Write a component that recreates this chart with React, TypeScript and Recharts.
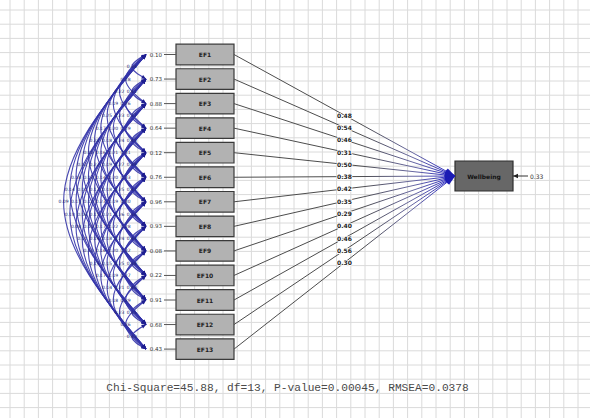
import React from 'react';
import { ComposedChart, XAxis, YAxis, CartesianGrid, Line, Scatter, ReferenceArea } from 'recharts';

// ---------- data ----------
const indicators = ['EF1', 'EF2', 'EF3', 'EF4', 'EF5', 'EF6', 'EF7', 'EF8', 'EF9', 'EF10', 'EF11', 'EF12', 'EF13'];
const loadings = [0.48, 0.54, 0.46, 0.31, 0.5, 0.38, 0.42, 0.35, 0.29, 0.4, 0.46, 0.56, 0.3];
const variances = [0.1, 0.73, 0.88, 0.64, 0.12, 0.76, 0.96, 0.93, 0.08, 0.22, 0.91, 0.68, 0.43];
const covariances = [
  [0.34, 0.28, 0.22, 0.19, 0.25, 0.17, 0.21, 0.15, 0.12, 0.18, 0.14, 0.09],
  [0.41, 0.26, 0.23, 0.2, 0.18, 0.16, 0.22, 0.13, 0.11, 0.15, 0.1],
  [0.37, 0.29, 0.24, 0.21, 0.19, 0.14, 0.17, 0.12, 0.16, 0.08],
  [0.45, 0.31, 0.27, 0.2, 0.18, 0.23, 0.15, 0.13, 0.11],
  [0.39, 0.33, 0.25, 0.19, 0.21, 0.17, 0.14, 0.12],
  [0.42, 0.3, 0.26, 0.22, 0.18, 0.16, 0.13],
  [0.36, 0.28, 0.24, 0.2, 0.15, 0.17],
  [0.44, 0.32, 0.25, 0.19, 0.14],
  [0.38, 0.27, 0.21, 0.18],
  [0.4, 0.29, 0.23],
  [0.35, 0.26],
  [0.43],
];
const targetName = 'Wellbeing';
const targetError = 0.33;
const fitText = 'Chi-Square=45.88, df=13, P-value=0.00045, RMSEA=0.0378';

// ---------- layout (canvas units, mapped by the axes' scales) ----------
const W = 590;
const H = 418;
const ROW_TOP = 54.5;
const ROW_STEP = 24.55;
const BOX_X1 = 176;
const BOX_X2 = 234;
const BOX_HALF = 10.3;
const TGT_X1 = 455;
const TGT_X2 = 513;
const TGT_Y = 176;
const TGT_HALF = 15;
const VAR_LINE_X = 164;
const VAR_LABEL_X = 162;
const ARC_X = 146;
const ARC_BASE = 8;
const ARC_GROW = 6.2;
const ERR_X = 528;
const FIT_X = 287.5;
const FIT_Y = 388;
const GRID_STEP = 14.2;

const rowY = (i: number) => ROW_TOP + i * ROW_STEP;

const gridXs: number[] = [];
for (let v = 10; v < W; v += GRID_STEP) gridXs.push(v);
const gridYs: number[] = [];
for (let v = 10; v < H; v += GRID_STEP) gridYs.push(v);

type Arc = { i: number; j: number; v: number };
const arcs: Arc[] = [];
covariances.forEach((row, i) =>
  row.forEach((v, k) => {
    arcs.push({ i, j: i + k + 1, v });
  })
);

const fmt = (v: number) => v.toFixed(2);

const head = (cx: number, cy: number, deg: number, len: number, half: number, fill: string, key: string) => (
  <polygon
    key={key}
    points={`0,0 ${-len},${-half} ${-len},${half}`}
    transform={`translate(${cx},${cy}) rotate(${deg})`}
    fill={fill}
  />
);

const textShape = (size: number, fill: string, anchor: string, family = 'DejaVu Sans', weight = 'normal', halo = false) =>
  (p: any) => (
    <text
      x={p.cx}
      y={p.cy}
      fontSize={size}
      fill={fill}
      textAnchor={anchor}
      dominantBaseline="central"
      fontFamily={family}
      fontWeight={weight}
      stroke={halo ? '#ffffff' : 'none'}
      strokeWidth={halo ? 1.6 : 0}
      paintOrder="stroke"
    >
      {p.payload.text}
    </text>
  );

const boxLabels = indicators.map((n, i) => ({ x: (BOX_X1 + BOX_X2) / 2, y: rowY(i), text: n }));
const varLabels = variances.map((v, i) => ({ x: VAR_LABEL_X, y: rowY(i), text: fmt(v) }));
const loadLabels = loadings.map((v, i) => ({
  x: (BOX_X2 + TGT_X1) / 2,
  y: (rowY(i) + TGT_Y) / 2,
  text: fmt(v),
}));
const arcApex = (a: Arc) => ARC_X - (ARC_BASE + ARC_GROW * (a.j - a.i));
const arcLabels = arcs.map((a) => ({ x: arcApex(a), y: (rowY(a.i) + rowY(a.j)) / 2, text: fmt(a.v) }));

export default function App() {
  return (
    <div style={{ position: 'absolute', left: 0, top: 0, width: W, height: H, background: '#ffffff' }}>
      <svg width={0} height={0} style={{ position: 'absolute' }}>
        <defs>
          <linearGradient id="loadGrad" gradientUnits="userSpaceOnUse" x1={360} y1={0} x2={TGT_X1} y2={0}>
            <stop offset="0" stopColor="#4c4c4c" />
            <stop offset="0.55" stopColor="#6868a0" />
            <stop offset="1" stopColor="#2424c8" />
          </linearGradient>
        </defs>
      </svg>
      <ComposedChart width={W} height={H} margin={{ top: 0, right: 0, bottom: 0, left: 0 }}>
        <CartesianGrid verticalPoints={gridXs} horizontalPoints={gridYs} stroke="#dadada" strokeWidth={1} />
        <XAxis type="number" dataKey="x" domain={[0, W]} hide height={0} allowDataOverflow />
        <YAxis type="number" dataKey="y" domain={[0, H]} reversed hide width={0} allowDataOverflow />

        {/* covariance arcs */}
        {arcs.map((a, n) => {
          const y0 = rowY(a.i);
          const y1 = rowY(a.j);
          const ym = (y0 + y1) / 2;
          const ax = arcApex(a);
          const dx = 1.5 * (ARC_X - ax);
          const degStart = (Math.atan2(y0 - ym, dx) * 180) / Math.PI;
          const degEnd = (Math.atan2(y1 - ym, dx) * 180) / Math.PI;
          return (
            <Line
              key={`arc${n}`}
              data={[
                { x: ARC_X, y: y0 },
                { x: ax, y: ym },
                { x: ARC_X, y: y1 },
              ]}
              dataKey="y"
              type="natural"
              stroke="#3434aa"
              strokeWidth={1.1}
              strokeOpacity={0.9}
              isAnimationActive={false}
              activeDot={false}
              legendType="none"
              dot={(p: any) =>
                p.index === 1
                  ? <g key={`ad${n}-${p.index}`} />
                  : head(p.cx, p.cy, p.index === 0 ? degStart : degEnd, 4.5, 2, '#1e1e90', `ad${n}-${p.index}`)
              }
            />
          );
        })}

        {/* variance stubs */}
        {variances.map((v, i) => (
          <Line
            key={`var${i}`}
            data={[
              { x: VAR_LINE_X, y: rowY(i) },
              { x: BOX_X1, y: rowY(i) },
            ]}
            dataKey="y"
            stroke="#555555"
            strokeWidth={1}
            dot={false}
            activeDot={false}
            isAnimationActive={false}
            legendType="none"
          />
        ))}

        {/* paths to target */}
        {loadings.map((v, i) => {
          const deg = (Math.atan2(TGT_Y - rowY(i), TGT_X1 - BOX_X2) * 180) / Math.PI;
          return (
            <Line
              key={`load${i}`}
              data={[
                { x: BOX_X2, y: rowY(i) },
                { x: TGT_X1, y: TGT_Y },
              ]}
              dataKey="y"
              stroke="url(#loadGrad) #555555"
              strokeWidth={1}
              activeDot={false}
              isAnimationActive={false}
              legendType="none"
              dot={(p: any) =>
                p.index === 0
                  ? <g key={`lh${i}-0`} />
                  : head(p.cx, p.cy, deg, 10, 3.2, '#1c1cb4', `lh${i}-1`)
              }
            />
          );
        })}

        {/* target error arrow */}
        <Line
          data={[
            { x: ERR_X, y: TGT_Y },
            { x: TGT_X2, y: TGT_Y },
          ]}
          dataKey="y"
          stroke="#333333"
          strokeWidth={1}
          activeDot={false}
          isAnimationActive={false}
          legendType="none"
          dot={(p: any) => (p.index === 0 ? <g key="te0" /> : head(p.cx, p.cy, 180, 5, 2.2, '#222222', 'te1'))}
        />

        {/* boxes */}
        {indicators.map((n, i) => (
          <ReferenceArea
            key={`box${i}`}
            x1={BOX_X1}
            x2={BOX_X2}
            y1={rowY(i) - BOX_HALF}
            y2={rowY(i) + BOX_HALF}
            fill="#b2b2b2"
            fillOpacity={1}
            stroke="#3a3a3a"
            strokeWidth={1.2}
          />
        ))}
        <ReferenceArea
          x1={TGT_X1}
          x2={TGT_X2}
          y1={TGT_Y - TGT_HALF}
          y2={TGT_Y + TGT_HALF}
          fill="#676767"
          fillOpacity={1}
          stroke="#2e2e2e"
          strokeWidth={1.2}
        />

        {/* texts */}
        <Scatter data={arcLabels} dataKey="y" isAnimationActive={false} legendType="none" shape={textShape(4.5, '#1e1e70', 'middle')} />
        <Scatter data={boxLabels} dataKey="y" isAnimationActive={false} legendType="none" shape={textShape(6, '#222222', 'middle', 'DejaVu Sans', 'bold')} />
        <Scatter data={varLabels} dataKey="y" isAnimationActive={false} legendType="none" shape={textShape(5.5, '#333333', 'end')} />
        <Scatter data={loadLabels} dataKey="y" isAnimationActive={false} legendType="none" shape={textShape(6, '#222222', 'middle', 'DejaVu Sans', 'bold', true)} />
        <Scatter
          data={[{ x: (TGT_X1 + TGT_X2) / 2, y: TGT_Y, text: targetName }]}
          dataKey="y"
          isAnimationActive={false}
          legendType="none"
          shape={textShape(6, '#141414', 'middle', 'DejaVu Sans', 'bold')}
        />
        <Scatter
          data={[{ x: ERR_X + 2, y: TGT_Y, text: fmt(targetError) }]}
          dataKey="y"
          isAnimationActive={false}
          legendType="none"
          shape={textShape(6, '#333333', 'start')}
        />
        <Scatter
          data={[{ x: FIT_X, y: FIT_Y, text: fitText }]}
          dataKey="y"
          isAnimationActive={false}
          legendType="none"
          shape={textShape(11.2, '#4a4a4a', 'middle', 'Liberation Mono')}
        />
      </ComposedChart>
    </div>
  );
}
